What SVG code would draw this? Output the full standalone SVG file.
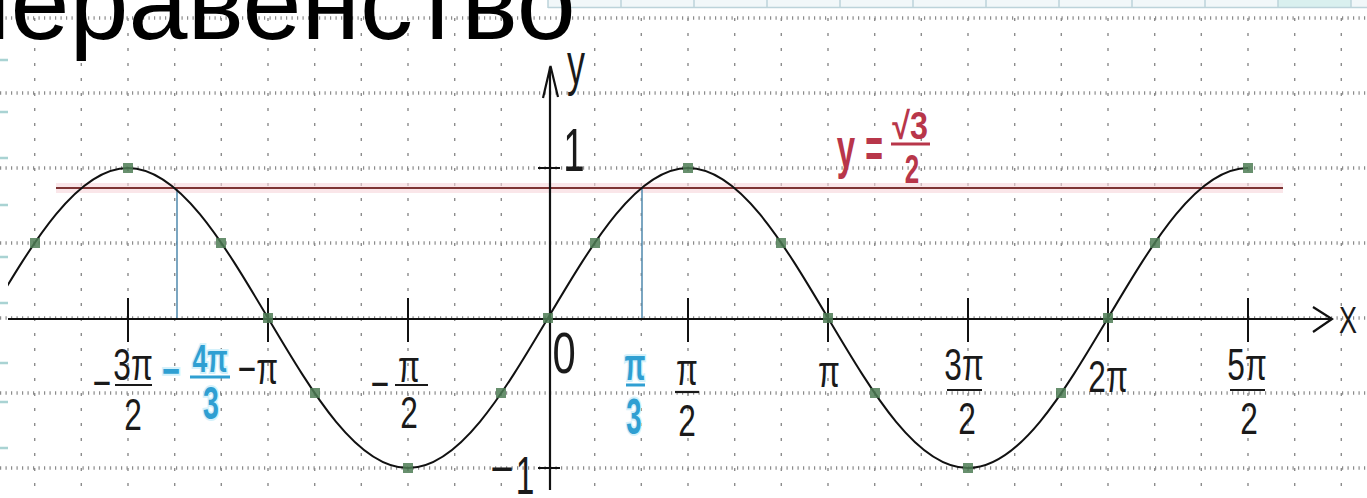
<svg xmlns="http://www.w3.org/2000/svg" width="1367" height="498" viewBox="0 0 1367 498">
<defs>
<style>
.vg{stroke:#8c8c8c;stroke-width:1.4;stroke-dasharray:3 12;fill:none}
.hg{stroke:#8c8c8c;stroke-width:3.5;stroke-dasharray:1.2 4.3;fill:none}
.ax{stroke:#111;stroke-width:2.2;fill:none}
.tk{stroke:#111;stroke-width:2;fill:none}
.lb{font-family:"Liberation Sans",Arial,sans-serif;fill:#1a1a1a;text-anchor:middle}
.bl{font-family:"Liberation Sans",Arial,sans-serif;fill:#2f9fd2;font-weight:bold;text-anchor:middle;stroke:#d4f1fb;stroke-width:4;paint-order:stroke}
.rd{font-family:"Liberation Sans",Arial,sans-serif;fill:#b8364a;font-weight:bold;text-anchor:middle}
.mk{fill:#4d7d55;fill-opacity:0.85}
.td{stroke:#a9d3d3;stroke-width:2.5}
</style>
<clipPath id="cc"><rect x="8" y="0" width="1359" height="498"/></clipPath>
</defs>
<rect width="1367" height="498" fill="#ffffff"/>

<g id="slide-decor">
<rect x="548" y="0" width="819" height="7.5" fill="#f1f7f9"/>
<rect x="1278" y="0" width="73" height="7.5" fill="#d9f0ef"/>
<path d="M548 0V8M621 0V8M694 0V8M767 0V8M840 0V8M913 0V8M986 0V8M1059 0V8M1132 0V8M1205 0V8M1278 0V8M1351 0V8M548 7.5H1367" stroke="#bcd3da" stroke-width="1.5" fill="none"/>
<path class="td" d="M0 60H8M0 112H8M0 158H8M0 205H8M0 257H8M0 303H8M0 363H8M0 402H8M0 448H8"/>
</g>

<g id="grid">
<path class="hg" d="M0 18H1367M0 93H1367M0 168H1367M0 243H1367M0 318H1367M0 393H1367M0 468H1367"/>
<path class="vg" d="M34.7 18V498M81.3 18V498M128 18V498M174.7 18V498M221.3 18V498M268 18V498M314.7 18V498M361.3 18V498M408 18V498M454.7 18V498M501.3 18V498M594.7 18V498M641.3 18V498M688 18V498M734.7 18V498M781.3 18V498M828 18V498M874.7 18V498M921.3 18V498M968 18V498M1014.7 18V498M1061.3 18V498M1108 18V498M1154.7 18V498M1201.3 18V498M1248 18V498M1294.7 18V498M1341.3 18V498"/>
</g>

<text id="title" x="-48" y="39" font-family="Liberation Sans, Arial, sans-serif" font-size="106" fill="#000">неравенство</text>

<g id="line-y-sqrt3-2">
<line x1="56" y1="188" x2="1283" y2="188" stroke="#f7d6da" stroke-width="10" stroke-opacity="0.6"/>
<line x1="56" y1="188" x2="1283" y2="188" stroke="#7e3434" stroke-width="2"/>
</g>

<g id="axes">
<line class="ax" x1="8" y1="319" x2="1331" y2="319"/>
<path class="ax" d="M1313 307L1332 319L1313 332"/>
<line class="ax" x1="550" y1="67" x2="550" y2="490"/>
<path class="ax" d="M543 98L550.5 66L558 97"/>
<path class="tk" d="M128 298V342M268 298V342M408 298V342M688 298V342M828 298V342M968 298V342M1108 298V342M1248 298V342M538 168H560M538 468H560"/>
</g>

<g id="drops" stroke="#5a90b2" stroke-width="1.6">
<line x1="177" y1="189" x2="177" y2="318"/>
<line x1="642" y1="189" x2="642" y2="318"/>
</g>

<g id="curve" clip-path="url(#cc)">
<path d="M-12 318C33.66 241.16 77.33 168 128 168C178.67 168 222.34 241.16 268 318C313.66 394.84 357.33 468 408 468C458.67 468 502.34 394.84 548 318C593.66 241.16 637.33 168 688 168C738.67 168 782.34 241.16 828 318C873.66 394.84 917.33 468 968 468C1018.67 468 1062.34 394.84 1108 318C1153.66 241.16 1197.33 168 1248 168" fill="none" stroke="#111" stroke-width="2"/>
</g>

<g id="points">
<rect class="mk" x="30" y="238" width="10" height="10"/>
<rect class="mk" x="123" y="163" width="10" height="10"/>
<rect class="mk" x="216" y="238" width="10" height="10"/>
<rect class="mk" x="263" y="313" width="10" height="10"/>
<rect class="mk" x="310" y="388" width="10" height="10"/>
<rect class="mk" x="403" y="463" width="10" height="10"/>
<rect class="mk" x="496" y="388" width="10" height="10"/>
<rect class="mk" x="543" y="313" width="10" height="10"/>
<rect class="mk" x="590" y="238" width="10" height="10"/>
<rect class="mk" x="683" y="163" width="10" height="10"/>
<rect class="mk" x="776" y="238" width="10" height="10"/>
<rect class="mk" x="823" y="313" width="10" height="10"/>
<rect class="mk" x="870" y="388" width="10" height="10"/>
<rect class="mk" x="963" y="463" width="10" height="10"/>
<rect class="mk" x="1056" y="388" width="10" height="10"/>
<rect class="mk" x="1103" y="313" width="10" height="10"/>
<rect class="mk" x="1150" y="238" width="10" height="10"/>
<rect class="mk" x="1243" y="163" width="10" height="10"/>
</g>

<g id="axis-labels">
<text class="lb" font-size="60" transform="translate(576,84) scale(0.6,1)">y</text>
<text class="lb" font-size="36" transform="translate(1348,333) scale(0.75,1)">X</text>
<text class="lb" font-size="62" transform="translate(574,171) scale(0.62,1)">1</text>
<text class="lb" font-size="50" transform="translate(502,486) scale(0.8,1)">−</text>
<text class="lb" font-size="54" transform="translate(525,494) scale(0.62,1)">1</text>
<text class="lb" font-size="58" transform="translate(564,373) scale(0.72,1)">0</text>
</g>

<g id="tick-labels">
<g id="lbl-m3pi2">
<text class="lb" font-size="44" transform="translate(102,398) scale(0.72,1)">−</text>
<text class="lb" font-size="44" transform="translate(133,380) scale(0.72,1)">3π</text>
<line x1="115" y1="385" x2="152" y2="385" stroke="#1a1a1a" stroke-width="2.2"/>
<text class="lb" font-size="44" transform="translate(133,430) scale(0.72,1)">2</text>
</g>
<g id="lbl-mpi">
<text class="lb" font-size="44" transform="translate(258,384) scale(0.72,1)">−π</text>
</g>
<g id="lbl-mpi2">
<text class="lb" font-size="44" transform="translate(380,399) scale(0.72,1)">−</text>
<text class="lb" font-size="44" transform="translate(409,382) scale(0.72,1)">π</text>
<line x1="395" y1="385" x2="428" y2="385" stroke="#1a1a1a" stroke-width="2.2"/>
<text class="lb" font-size="44" transform="translate(409,428) scale(0.72,1)">2</text>
</g>
<g id="lbl-pi2">
<text class="lb" font-size="44" transform="translate(687,385) scale(0.72,1)">π</text>
<line x1="675" y1="392" x2="699" y2="392" stroke="#1a1a1a" stroke-width="2.2"/>
<text class="lb" font-size="44" transform="translate(687,436) scale(0.72,1)">2</text>
</g>
<g id="lbl-pi">
<text class="lb" font-size="44" transform="translate(829,387) scale(0.72,1)">π</text>
</g>
<g id="lbl-3pi2">
<text class="lb" font-size="44" transform="translate(964,380) scale(0.72,1)">3π</text>
<line x1="947" y1="390" x2="982" y2="390" stroke="#1a1a1a" stroke-width="2.2"/>
<text class="lb" font-size="44" transform="translate(967,434) scale(0.72,1)">2</text>
</g>
<g id="lbl-2pi">
<text class="lb" font-size="44" transform="translate(1108,392) scale(0.72,1)">2π</text>
</g>
<g id="lbl-5pi2">
<text class="lb" font-size="44" transform="translate(1247,380) scale(0.72,1)">5π</text>
<line x1="1230" y1="390" x2="1265" y2="390" stroke="#1a1a1a" stroke-width="2.2"/>
<text class="lb" font-size="44" transform="translate(1249,434) scale(0.72,1)">2</text>
</g>
</g>

<g id="solution-labels">
<g id="lbl-m4pi3">
<text class="bl" font-size="44" transform="translate(171,386) scale(0.7,1)">−</text>
<text class="bl" font-size="38" transform="translate(210,372) scale(0.7,1)">4π</text>
<line x1="190" y1="377" x2="230" y2="377" stroke="#2f9fd2" stroke-width="3"/>
<text class="bl" font-size="46" transform="translate(211,419) scale(0.62,1)">3</text>
</g>
<g id="lbl-pi3">
<text class="bl" font-size="44" transform="translate(635,380) scale(0.62,1)">π</text>
<line x1="626" y1="385" x2="645" y2="385" stroke="#2f9fd2" stroke-width="3"/>
<text class="bl" font-size="50" transform="translate(634,434) scale(0.55,1)">3</text>
</g>
</g>

<g id="line-label">
<text class="rd" font-size="55" transform="translate(846,167) scale(0.6,1)">y</text>
<text class="rd" font-size="55" transform="translate(874,167) scale(0.55,1)">=</text>
<text class="rd" font-size="38" transform="translate(910,139) scale(0.85,1)">√3</text>
<line x1="891" y1="144" x2="930" y2="144" stroke="#b8364a" stroke-width="3"/>
<text class="rd" font-size="40" transform="translate(912,183) scale(0.65,1)">2</text>
</g>
</svg>
